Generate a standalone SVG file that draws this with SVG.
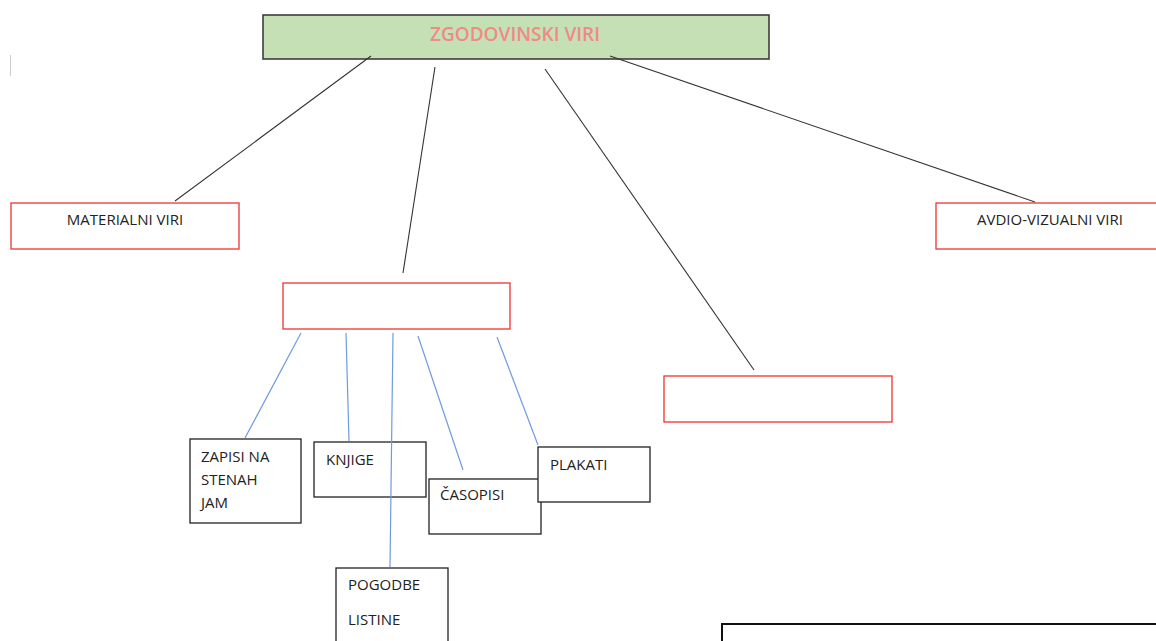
<svg xmlns="http://www.w3.org/2000/svg" width="1156" height="641" viewBox="0 0 1156 641">
<style>
.t{font-family:"Open Sans","Liberation Sans",sans-serif;font-size:15px;fill:#222}
.red{fill:#fff;stroke:#ee3333;stroke-width:1.3}
.blk{fill:#fff;stroke:#222;stroke-width:1.3}
.c1{stroke:#333;stroke-width:1.1;fill:none}
.c2{stroke:#6f9be0;stroke-width:1.2;fill:none}
</style>
<rect width="1156" height="641" fill="#fff"/>
<line x1="10.5" y1="55" x2="10.5" y2="76" stroke="#ccc" stroke-width="1"/>
<g id="root">
<rect x="263" y="15" width="506" height="44" fill="#c5e0b4" stroke="#333" stroke-width="1.5"/>
<text x="515" y="41" text-anchor="middle" font-family="Open Sans, Liberation Sans, sans-serif" font-size="19" font-weight="600" fill="#f08a86">ZGODOVINSKI VIRI</text>
</g>
<g id="materialni">
<rect class="red" x="11" y="203" width="228" height="46"/>
<text class="t" x="125" y="225" text-anchor="middle">MATERIALNI VIRI</text>
</g>
<g id="avdio">
<rect class="red" x="936" y="203" width="230" height="46"/>
<text class="t" x="1050" y="225" text-anchor="middle">AVDIO-VIZUALNI VIRI</text>
</g>
<g id="pisni">
<rect class="red" x="283" y="283" width="227" height="46"/>
</g>
<g id="ustni">
<rect class="red" x="664" y="376" width="228" height="46"/>
</g>
<g id="zapisi">
<rect class="blk" x="190" y="439" width="111" height="84"/>
<text class="t" x="201" y="462">ZAPISI NA</text>
<text class="t" x="201" y="485">STENAH</text>
<text class="t" x="201" y="508">JAM</text>
</g>
<g id="knjige">
<rect class="blk" x="314" y="442" width="112" height="55"/>
<text class="t" x="326" y="465">KNJIGE</text>
</g>
<g id="casopisi">
<rect class="blk" x="429" y="479" width="112" height="55"/>
<text class="t" x="440" y="500">ČASOPISI</text>
</g>
<g id="plakati">
<rect class="blk" x="538" y="447" width="112" height="55"/>
<text class="t" x="550" y="470">PLAKATI</text>
</g>
<g id="pogodbe">
<rect class="blk" x="336" y="568" width="112" height="90"/>
<text class="t" x="348" y="590">POGODBE</text>
<text class="t" x="348" y="625">LISTINE</text>
</g>
<g id="spodaj">
<rect x="722" y="624" width="450" height="40" fill="#fff" stroke="#111" stroke-width="2"/>
</g>
<g id="connectors">
<line class="c1" x1="371" y1="56" x2="175" y2="201"/>
<line class="c1" x1="435" y1="67" x2="403" y2="273"/>
<line class="c1" x1="545" y1="69" x2="754" y2="370"/>
<line class="c1" x1="610" y1="56" x2="1035" y2="202"/>
<line class="c2" x1="301" y1="333" x2="245" y2="438"/>
<line class="c2" x1="346" y1="333" x2="349" y2="441"/>
<line class="c2" x1="393" y1="333" x2="390" y2="567"/>
<line class="c2" x1="418" y1="336" x2="463" y2="470"/>
<line class="c2" x1="497" y1="337" x2="538" y2="445"/>
</g>
</svg>
